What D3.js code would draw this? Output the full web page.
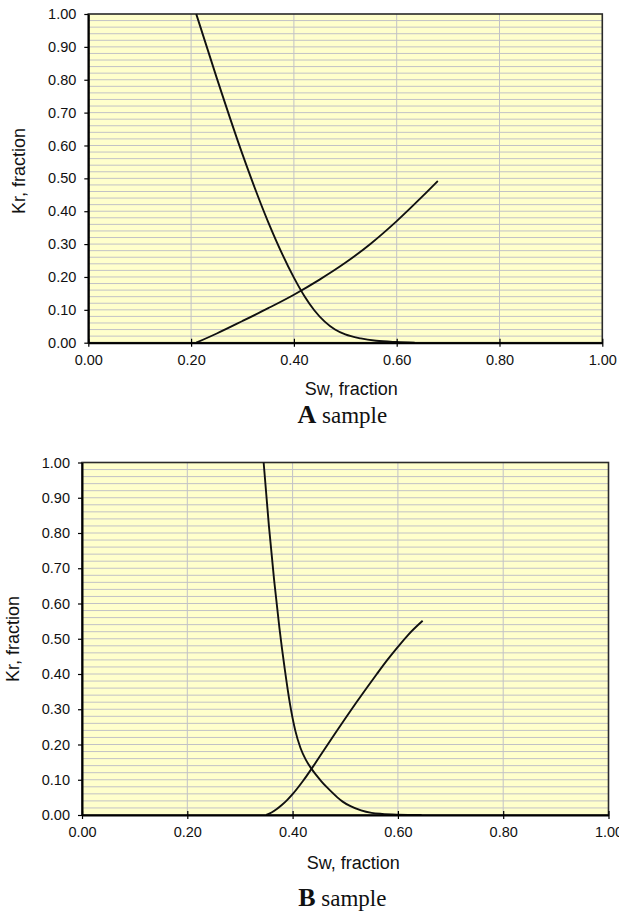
<!DOCTYPE html>
<html>
<head>
<meta charset="utf-8">
<script src="https://cdn.jsdelivr.net/npm/d3@7"></script>
<style>
  html, body { margin: 0; padding: 0; background: #fff; }
  svg { display: block; }
</style>
</head>
<body>
<svg id="chart" width="619" height="912"></svg>
<script>
// Axis ticks shared by both panels
const swTicks = [0.0, 0.2, 0.4, 0.6, 0.8, 1.0];
const krTicks = [0.0, 0.1, 0.2, 0.3, 0.4, 0.5, 0.6, 0.7, 0.8, 0.9, 1.0];

// Sample A — oil relative permeability
const swOilA = [0.210, 0.250, 0.300, 0.350, 0.400, 0.420, 0.440, 0.460, 0.480, 0.500, 0.530, 0.560, 0.600, 0.635];
const kroA   = [1.000, 0.805, 0.573, 0.367, 0.198, 0.143, 0.098, 0.064, 0.040, 0.025, 0.013, 0.006, 0.002, 0.000];
// Sample A — water relative permeability
const swWatA = [0.210, 0.250, 0.300, 0.350, 0.400, 0.450, 0.500, 0.550, 0.600, 0.650, 0.680];
const krwA   = [0.000, 0.028, 0.066, 0.105, 0.146, 0.192, 0.243, 0.302, 0.370, 0.445, 0.492];

// Sample B — oil relative permeability
const swOilB = [0.345, 0.355, 0.365, 0.375, 0.385, 0.395, 0.405, 0.415, 0.425, 0.435, 0.445, 0.455, 0.465, 0.475, 0.485, 0.495, 0.510, 0.530, 0.550, 0.570, 0.600, 0.645];
const kroB   = [1.000, 0.820, 0.665, 0.530, 0.415, 0.315, 0.240, 0.190, 0.157, 0.133, 0.113, 0.095, 0.079, 0.064, 0.050, 0.038, 0.025, 0.013, 0.006, 0.003, 0.001, 0.000];
// Sample B — water relative permeability
const swWatB = [0.350, 0.360, 0.370, 0.380, 0.390, 0.400, 0.420, 0.440, 0.460, 0.480, 0.500, 0.520, 0.540, 0.560, 0.580, 0.600, 0.620, 0.647];
const krwB   = [0.000, 0.007, 0.017, 0.029, 0.043, 0.059, 0.097, 0.140, 0.185, 0.230, 0.274, 0.317, 0.359, 0.400, 0.440, 0.477, 0.512, 0.551];

const xTitle = "Sw, fraction";
const yTitle = "Kr, fraction";

const panels = [
  { letter: "A", word: " sample", box: { left: 88.3, right: 602.3, top: 14, bottom: 342.7 },
    yTitleX: 25, yTitleY: 171, xTitleDX: 6, xTitleY: 395, capY: 423,
    curves: [[swOilA, kroA], [swWatA, krwA]] },
  { letter: "B", word: " sample", box: { left: 82, right: 608.5, top: 462.5, bottom: 815 },
    yTitleX: 19, yTitleY: 639, xTitleDX: 8, xTitleY: 869, capY: 906,
    curves: [[swOilB, kroB], [swWatB, krwB]] }
];

const svg = d3.select("#chart");
const fmt = d3.format(".2f");
const sans = "'Liberation Sans', Arial, sans-serif";
const serif = "'Liberation Serif', 'Times New Roman', serif";

panels.forEach(p => {
  const b = p.box;
  const x = d3.scaleLinear().domain([0, 1]).range([b.left, b.right]);
  const y = d3.scaleLinear().domain([0, 1]).range([b.bottom, b.top]);
  const g = svg.append("g");

  // plot area background
  g.append("rect")
    .attr("x", b.left).attr("y", b.top)
    .attr("width", b.right - b.left).attr("height", b.bottom - b.top)
    .attr("fill", "#ffffcc");

  // horizontal grid every 0.02
  const hGrid = y.ticks(50).filter(v => v > 0 && v < 1);
  g.append("g").selectAll("line").data(hGrid).join("line")
    .attr("x1", b.left).attr("x2", b.right)
    .attr("y1", d => y(d)).attr("y2", d => y(d))
    .attr("stroke", "#c2c2c6").attr("stroke-width", 1);

  // vertical grid at the major x ticks
  g.append("g").selectAll("line").data(swTicks.filter(v => v > 0 && v < 1)).join("line")
    .attr("x1", d => x(d)).attr("x2", d => x(d))
    .attr("y1", b.top).attr("y2", b.bottom)
    .attr("stroke", "#c2c2c6").attr("stroke-width", 1);

  // plot border (top and right)
  g.append("rect")
    .attr("x", b.left).attr("y", b.top)
    .attr("width", b.right - b.left).attr("height", b.bottom - b.top)
    .attr("fill", "none").attr("stroke", "#2a2a2a").attr("stroke-width", 1.6);

  // curves
  const line = d3.line()
    .x(d => x(d[0])).y(d => y(d[1]))
    .curve(d3.curveMonotoneX);
  p.curves.forEach(([sw, kr]) => {
    g.append("path")
      .datum(sw.map((s, i) => [s, kr[i]]))
      .attr("d", line)
      .attr("fill", "none")
      .attr("stroke", "#111")
      .attr("stroke-width", 1.9)
      .attr("stroke-linejoin", "round");
  });

  // x axis
  const xa = g.append("g")
    .attr("transform", `translate(0,${b.bottom})`)
    .call(d3.axisBottom(x).tickValues(swTicks).tickFormat(fmt)
      .tickSizeInner(4).tickSizeOuter(0).tickPadding(8));
  xa.attr("font-size", null).attr("font-family", null);
  xa.select(".domain").attr("stroke", "#000").attr("stroke-width", 2);
  xa.selectAll(".tick line").attr("y1", -4).attr("y2", 4).attr("stroke", "#000").attr("stroke-width", 1.2);
  xa.selectAll(".tick text").attr("font-family", sans).attr("font-size", 14.5).attr("fill", "#111");

  // y axis
  const ya = g.append("g")
    .attr("transform", `translate(${b.left},0)`)
    .call(d3.axisLeft(y).tickValues(krTicks).tickFormat(fmt)
      .tickSizeInner(4).tickSizeOuter(0).tickPadding(8));
  ya.attr("font-size", null).attr("font-family", null);
  ya.select(".domain").attr("stroke", "#000").attr("stroke-width", 2);
  ya.selectAll(".tick line").attr("stroke", "#000").attr("stroke-width", 1.2);
  ya.selectAll(".tick text").attr("font-family", sans).attr("font-size", 14.5).attr("fill", "#111");

  // axis titles
  g.append("text")
    .attr("transform", `translate(${p.yTitleX},${p.yTitleY}) rotate(-90)`)
    .attr("text-anchor", "middle")
    .attr("font-family", sans).attr("font-size", 18).attr("fill", "#111")
    .text(yTitle);

  g.append("text")
    .attr("x", (b.left + b.right) / 2 + p.xTitleDX).attr("y", p.xTitleY)
    .attr("text-anchor", "middle")
    .attr("font-family", sans).attr("font-size", 18).attr("fill", "#111")
    .text(xTitle);

  // sample caption
  const cap = g.append("text")
    .attr("x", (b.left + b.right) / 2 - 3).attr("y", p.capY)
    .attr("text-anchor", "middle")
    .attr("font-family", serif).attr("fill", "#111");
  cap.append("tspan").attr("font-weight", "bold").attr("font-size", 26).text(p.letter);
  cap.append("tspan").attr("font-size", 23).text(p.word);
});
</script>
</body>
</html>
